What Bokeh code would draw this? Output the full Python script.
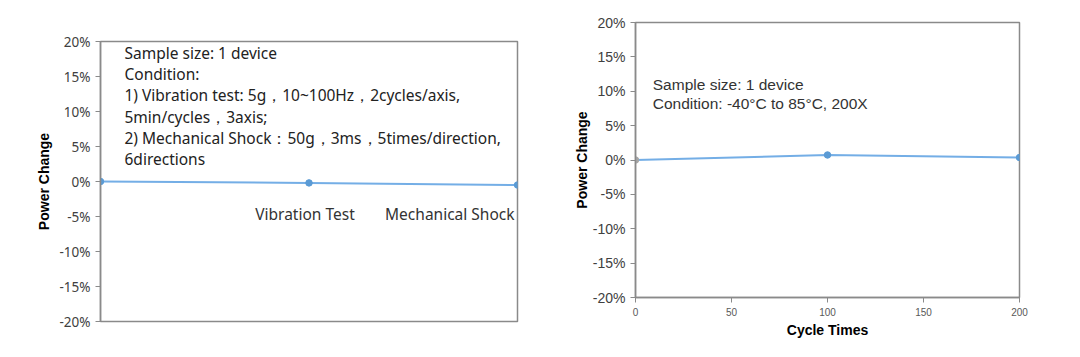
from bokeh.plotting import figure
from bokeh.layouts import row, column
from bokeh.models import Range1d, PrintfTickFormatter, FixedTicker, ColumnDataSource
from bokeh.core.properties import value
from bokeh.embed import file_html
from bokeh.resources import INLINE

# ---- data ----
mech_categories = ["Initial", "Vibration Test", "Mechanical Shock"]
mech_change = [0.0, -0.2, -0.5]          # percent
mech_notes = ["Sample size: 1 device",
              "Condition:",
              "1) Vibration test: 5g\uff0c10~100Hz\uff0c2cycles/axis,",
              "5min/cycles\uff0c3axis;",
              "2) Mechanical Shock\uff1a50g\uff0c3ms\uff0c5times/direction,",
              "6directions"]

cycle_times = [0, 100, 200]
cycle_change = [0.0, 0.73, 0.36]         # percent
cycle_notes = ["Sample size: 1 device",
               "Condition: -40\u00b0C to 85\u00b0C, 200X"]

y_ticks = [-20, -15, -10, -5, 0, 5, 10, 15, 20]
x_ticks = [0, 50, 100, 150, 200]

GRAY = "#8a8a8a"
LINE = "#74aee6"
DOT = "#5b9bd5"

# ---- left chart ----
p1 = figure(width=536, height=345, output_backend="svg", toolbar_location=None,
            x_range=Range1d(0, 2), y_range=Range1d(-20, 20),
            min_border_left=100, min_border_right=19, min_border_top=41, min_border_bottom=24)
p1.xaxis.visible = False
p1.grid.visible = False
p1.outline_line_color = GRAY
p1.outline_line_width = 1.5
p1.yaxis.ticker = FixedTicker(ticks=y_ticks)
p1.yaxis.formatter = PrintfTickFormatter(format="%d%%")
p1.yaxis.axis_line_color = GRAY
p1.yaxis.axis_line_width = 1.5
p1.yaxis.major_tick_line_color = GRAY
p1.yaxis.major_tick_out = 5
p1.yaxis.major_tick_in = 0
p1.yaxis.minor_tick_line_color = None
p1.yaxis.major_label_text_font = "Noto Sans"
p1.yaxis.major_label_text_font_size = "13.5px"
p1.yaxis.major_label_text_color = "#404040"
p1.yaxis.axis_label = "Power Change"
p1.yaxis.axis_label_text_font = "Liberation Sans"
p1.yaxis.axis_label_text_font_style = "bold"
p1.yaxis.axis_label_text_font_size = "14px"
p1.yaxis.axis_label_text_color = "#000000"
p1.yaxis.axis_label_standoff = 4

xs1 = list(range(len(mech_categories)))
p1.line(xs1, mech_change, line_color=LINE, line_width=2)
p1.scatter(xs1, mech_change, size=6.5, fill_color=DOT, line_color=DOT)

p1.text(x=[xs1[1]], y=[-4.7], text=[mech_categories[1]], text_align="center",
        text_baseline="middle", x_offset=-4, text_font=value("Noto Sans"),
        text_font_size="15.5px", text_color="#333333")
p1.text(x=[xs1[2]], y=[-4.7], text=[mech_categories[2]], text_align="right",
        text_baseline="middle", x_offset=-3, text_font=value("Noto Sans"),
        text_font_size="15.5px", text_color="#333333")
p1.text(x=[0.115], y=[19.9], text=["\n".join(mech_notes)], text_align="left",
        text_baseline="top", text_font=value("Noto Sans"), text_font_size="15.5px",
        text_line_height=0.96, text_color="#222222")

# ---- right chart ----
p2 = figure(width=536, height=345, output_backend="svg", toolbar_location=None,
            x_range=Range1d(0, 200), y_range=Range1d(-20, 20),
            min_border_left=99, min_border_right=53, min_border_top=22, min_border_bottom=48)
p2.grid.visible = False
p2.outline_line_color = GRAY
p2.outline_line_width = 1.5
for ax in (p2.xaxis[0], p2.yaxis[0]):
    ax.axis_line_color = GRAY
    ax.axis_line_width = 1.5
    ax.major_tick_line_color = GRAY
    ax.major_tick_out = 5
    ax.major_tick_in = 0
    ax.minor_tick_line_color = None
    ax.axis_label_text_font = "Liberation Sans"
    ax.axis_label_text_font_style = "bold"
    ax.axis_label_text_font_size = "14px"
    ax.axis_label_text_color = "#000000"
    ax.major_label_text_font = "Liberation Sans"
p2.yaxis.ticker = FixedTicker(ticks=y_ticks)
p2.yaxis.formatter = PrintfTickFormatter(format="%d%%")
p2.yaxis.major_label_text_font_size = "14px"
p2.yaxis.major_label_text_color = "#404040"
p2.yaxis.axis_label = "Power Change"
p2.yaxis.axis_label_standoff = 0
p2.xaxis.ticker = FixedTicker(ticks=x_ticks)
p2.xaxis.major_label_text_font_size = "10px"
p2.xaxis.major_label_text_color = "#595959"
p2.xaxis.axis_label = "Cycle Times"
p2.xaxis.axis_label_standoff = 3

p2.line(cycle_times, cycle_change, line_color=LINE, line_width=2)
src = ColumnDataSource(dict(x=cycle_times, y=cycle_change,
                            c=["#a6a6a6"] + [DOT] * (len(cycle_times) - 1)))
p2.scatter("x", "y", source=src, size=6.5, fill_color="c", line_color="c")
p2.text(x=[9], y=[12.2], text=["\n".join(cycle_notes)], text_align="left",
        text_baseline="top", text_font=value("Liberation Sans"), text_font_size="15.5px",
        text_line_height=1.12, text_color="#333333")

layout = row(column(p1), column(p2))
open("out.html", "w").write(file_html(layout, INLINE))
